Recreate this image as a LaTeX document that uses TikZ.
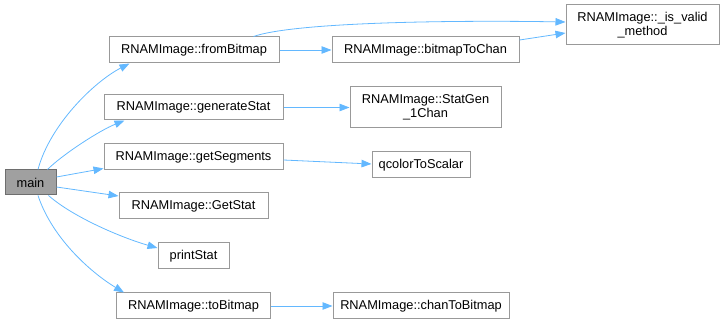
\documentclass[tikz,border=0pt]{standalone}
\usepackage{fontspec}
\setmainfont{Liberation Sans}
\usetikzlibrary{arrows.meta}
\definecolor{edgeblue}{HTML}{63B8FF}
\definecolor{boxline}{HTML}{999999}
\definecolor{mainfill}{HTML}{A0A0A0}
\definecolor{mainline}{HTML}{6E6E6E}
\begin{document}
\begin{tikzpicture}[x=1pt,y=-1pt,
  fn/.style={draw=boxline, line width=1pt, fill=white, inner sep=0pt,
    font=\fontsize{12.8}{14.5}\selectfont, align=center, minimum height=26pt},
  root/.style={fn, fill=mainfill, draw=mainline},
  call/.style={draw=edgeblue, line width=0.8pt,
    -{Triangle[length=10pt,width=7.5pt,fill=edgeblue]}}
]
\useasboundingbox (0,0) rectangle (724,323);

% functions
\node[root, minimum width=51pt, minimum height=25pt] (main) at (30.5,182.5) {main};
\node[fn, minimum width=170pt] (fromBitmap) at (194,50) {RNAMImage::fromBitmap};
\node[fn, minimum width=187pt] (bitmapToChan) at (425.5,50) {RNAMImage::bitmapToChan};
\node[fn, minimum width=153pt, minimum height=40pt] (isvalid) at (642.5,25) {RNAMImage::\_is\_valid\\\_method};
\node[fn, minimum width=179pt, minimum height=25pt] (generateStat) at (193.5,107.5) {RNAMImage::generateStat};
\node[fn, minimum width=151pt, minimum height=41pt] (statgen) at (425.5,107.5) {RNAMImage::StatGen\\\_1Chan};
\node[fn, minimum width=179pt] (getSegments) at (193.5,157) {RNAMImage::getSegments};
\node[fn, minimum width=98pt] (qcolor) at (421,165) {qcolorToScalar};
\node[fn, minimum width=149pt] (GetStat) at (193.5,206) {RNAMImage::GetStat};
\node[fn, minimum width=71pt] (printStat) at (193.5,256) {printStat};
\node[fn, minimum width=154pt] (toBitmap) at (193.5,306) {RNAMImage::toBitmap};
\node[fn, minimum width=176pt] (chanToBitmap) at (421,306) {RNAMImage::chanToBitmap};

% calls from main
\draw[call] ([xshift=7.5pt]main.north) .. controls +(12,-45) and +(-35,18) .. ([xshift=21pt]fromBitmap.south west);
\draw[call] ([xshift=-9pt]main.north east) .. controls +(15,-15) and +(-25,10) .. ([xshift=21pt]generateStat.south west);
\draw[call] ([yshift=5.5pt]main.east) -- ([yshift=2pt]getSegments.south west);
\draw[call] ([yshift=-4.5pt]main.east) -- ([yshift=10pt]GetStat.west);
\draw[call] ([xshift=-8pt]main.south east) .. controls +(25,22) and +(-35,-10) .. ([yshift=8pt]printStat.west);
\draw[call] ([xshift=7.5pt]main.south) .. controls +(15,45) and +(-30,-18) .. ([xshift=8pt]toBitmap.north west);

% further calls
\draw[call] (fromBitmap.east) -- (bitmapToChan.west);
\draw[call] ([xshift=-26pt]fromBitmap.north east) .. controls +(40,-14) and +(-120,-2) .. ([yshift=3pt]isvalid.west);
\draw[call] ([yshift=10pt]bitmapToChan.east) -- ([yshift=-8pt]isvalid.west);
\draw[call] (generateStat.east) -- (statgen.west);
\draw[call] ([yshift=-3pt]getSegments.east) -- ([yshift=1pt]qcolor.west);
\draw[call] (toBitmap.east) -- (chanToBitmap.west);
\end{tikzpicture}
\end{document}
